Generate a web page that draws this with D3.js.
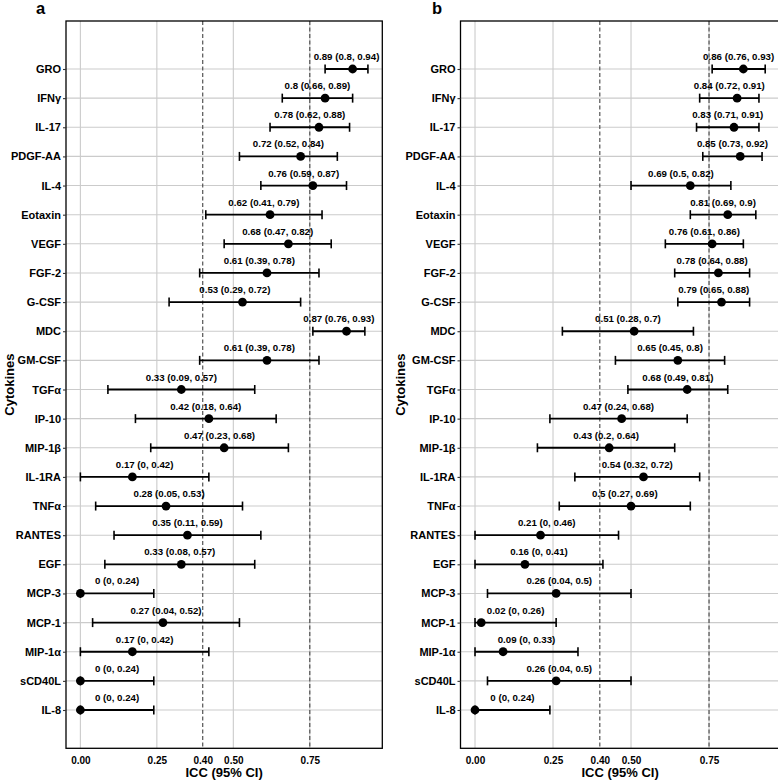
<!DOCTYPE html>
<html>
<head>
<meta charset="utf-8">
<script src="https://cdn.jsdelivr.net/npm/d3@7"></script>
<style>
  html, body { margin: 0; padding: 0; background: #fff; }
  svg { display: block; font-family: "Liberation Sans", Arial, Helvetica, sans-serif; }
</style>
</head>
<body>
<svg id="chart" width="778" height="780"></svg>
<script>
// ---------- data ----------
const cytokines = ["GRO","IFNγ","IL-17","PDGF-AA","IL-4","Eotaxin","VEGF","FGF-2","G-CSF","MDC","GM-CSF","TGFα","IP-10","MIP-1β","IL-1RA","TNFα","RANTES","EGF","MCP-3","MCP-1","MIP-1α","sCD40L","IL-8"];

const iccA   = [0.89,0.8,0.78,0.72,0.76,0.62,0.68,0.61,0.53,0.87,0.61,0.33,0.42,0.47,0.17,0.28,0.35,0.33,0,0.27,0.17,0,0];
const lowerA = [0.8,0.66,0.62,0.52,0.59,0.41,0.47,0.39,0.29,0.76,0.39,0.09,0.18,0.23,0,0.05,0.11,0.08,0,0.04,0,0,0];
const upperA = [0.94,0.89,0.88,0.84,0.87,0.79,0.82,0.78,0.72,0.93,0.78,0.57,0.64,0.68,0.42,0.53,0.59,0.57,0.24,0.52,0.42,0.24,0.24];

const iccB   = [0.86,0.84,0.83,0.85,0.69,0.81,0.76,0.78,0.79,0.51,0.65,0.68,0.47,0.43,0.54,0.5,0.21,0.16,0.26,0.02,0.09,0.26,0];
const lowerB = [0.76,0.72,0.71,0.73,0.5,0.69,0.61,0.64,0.65,0.28,0.45,0.49,0.24,0.2,0.32,0.27,0,0,0.04,0,0,0.04,0];
const upperB = [0.93,0.91,0.91,0.92,0.82,0.9,0.86,0.88,0.88,0.7,0.8,0.81,0.68,0.64,0.72,0.69,0.46,0.41,0.5,0.26,0.33,0.5,0.24];

const xTicks = [0, 0.25, 0.40, 0.50, 0.75];
const gridX = [0, 0.25, 0.5, 0.75];
const refLines = [0.40, 0.75];
const panelLabels = ["a", "b"];
const xTitle = "ICC (95% CI)";
const yTitle = "Cytokines";

// ---------- layout ----------
const svg = d3.select("#chart");
const panels = [
  { label: panelLabels[0], icc: iccA, lo: lowerA, hi: upperA, left: 66,  right: 382.3, labelX: 36,  yTitleX: 13.5 },
  { label: panelLabels[1], icc: iccB, lo: lowerB, hi: upperB, left: 460.5, right: 779.7, labelX: 432, yTitleX: 405 }
];
const panelTop = 21, panelBottom = 748.3;
const firstY = 69, lastY = 710;

const y = d3.scalePoint().domain(cytokines).range([firstY, lastY]);

panels.forEach(p => {
  const data = cytokines.map((c, i) => ({ name: c, icc: p.icc[i], lo: p.lo[i], hi: p.hi[i] }));
  const ext = [d3.min(p.lo), d3.max(p.hi)];
  const pad = (ext[1] - ext[0]) * 0.05;
  const x = d3.scaleLinear().domain([ext[0] - pad, ext[1] + pad]).range([p.left, p.right]);

  const g = svg.append("g");

  // gridlines
  g.selectAll(".gx").data(gridX).join("line")
    .attr("x1", d => x(d)).attr("x2", d => x(d))
    .attr("y1", panelTop).attr("y2", panelBottom)
    .attr("stroke", "#cbcbcb").attr("stroke-width", 1.1);
  g.selectAll(".gy").data(cytokines).join("line")
    .attr("x1", p.left).attr("x2", p.right)
    .attr("y1", d => y(d)).attr("y2", d => y(d))
    .attr("stroke", "#cbcbcb").attr("stroke-width", 1.1);

  // reference dashed lines
  g.selectAll(".ref").data(refLines).join("line")
    .attr("x1", d => x(d)).attr("x2", d => x(d))
    .attr("y1", panelTop).attr("y2", panelBottom)
    .attr("stroke", "#444").attr("stroke-width", 1.1)
    .attr("stroke-dasharray", "4,2.5");

  // error bars
  const eb = g.selectAll(".eb").data(data).join("g");
  eb.append("line")
    .attr("x1", d => x(d.lo)).attr("x2", d => x(d.hi))
    .attr("y1", d => y(d.name)).attr("y2", d => y(d.name))
    .attr("stroke", "#000").attr("stroke-width", 1.8);
  eb.append("line")
    .attr("x1", d => x(d.lo)).attr("x2", d => x(d.lo))
    .attr("y1", d => y(d.name) - 4.5).attr("y2", d => y(d.name) + 4.5)
    .attr("stroke", "#000").attr("stroke-width", 1.6);
  eb.append("line")
    .attr("x1", d => x(d.hi)).attr("x2", d => x(d.hi))
    .attr("y1", d => y(d.name) - 4.5).attr("y2", d => y(d.name) + 4.5)
    .attr("stroke", "#000").attr("stroke-width", 1.6);
  eb.append("circle")
    .attr("cx", d => x(d.icc)).attr("cy", d => y(d.name))
    .attr("r", 4.4).attr("fill", "#000");

  // value labels
  g.selectAll(".vl").data(data).join("text")
    .attr("x", d => x((d.lo + d.hi) / 2))
    .attr("y", d => y(d.name) - 9)
    .attr("text-anchor", "middle")
    .attr("font-size", "9.7px").attr("font-weight", "bold")
    .attr("fill", "#000")
    .text(d => `${d.icc} (${d.lo}, ${d.hi})`);

  // panel border
  g.append("rect")
    .attr("x", p.left).attr("y", panelTop)
    .attr("width", p.right - p.left).attr("height", panelBottom - panelTop)
    .attr("fill", "none").attr("stroke", "#000").attr("stroke-width", 1.3);

  // y axis
  const yAxis = g.append("g").attr("transform", `translate(${p.left},0)`)
    .call(d3.axisLeft(y).tickSize(3).tickPadding(2));
  yAxis.select(".domain").remove();
  yAxis.selectAll(".tick line").attr("stroke", "#333").attr("stroke-width", 1.1);
  yAxis.selectAll(".tick text")
    .attr("font-family", "Liberation Sans, Arial, sans-serif")
    .attr("font-size", "11px").attr("font-weight", "bold").attr("fill", "#000");

  // x axis
  const xAxis = g.append("g").attr("transform", `translate(0,${panelBottom})`)
    .call(d3.axisBottom(x).tickValues(xTicks).tickFormat(d3.format(".2f")).tickSize(0).tickPadding(9));
  xAxis.select(".domain").remove();
  xAxis.selectAll(".tick text")
    .attr("font-family", "Liberation Sans, Arial, sans-serif")
    .attr("font-size", "10px").attr("font-weight", "bold").attr("fill", "#000");

  // axis titles
  g.append("text")
    .attr("x", (p.left + p.right) / 2)
    .attr("y", 777)
    .attr("text-anchor", "middle")
    .attr("font-size", "13px").attr("font-weight", "bold")
    .text(xTitle);
  g.append("text")
    .attr("transform", `translate(${p.yTitleX},${(panelTop + panelBottom) / 2}) rotate(-90)`)
    .attr("text-anchor", "middle")
    .attr("font-size", "13px").attr("font-weight", "bold")
    .text(yTitle);

  // panel label
  g.append("text")
    .attr("x", p.labelX).attr("y", 14)
    .attr("font-size", "16.5px").attr("font-weight", "bold")
    .text(p.label);
});
</script>
</body>
</html>
